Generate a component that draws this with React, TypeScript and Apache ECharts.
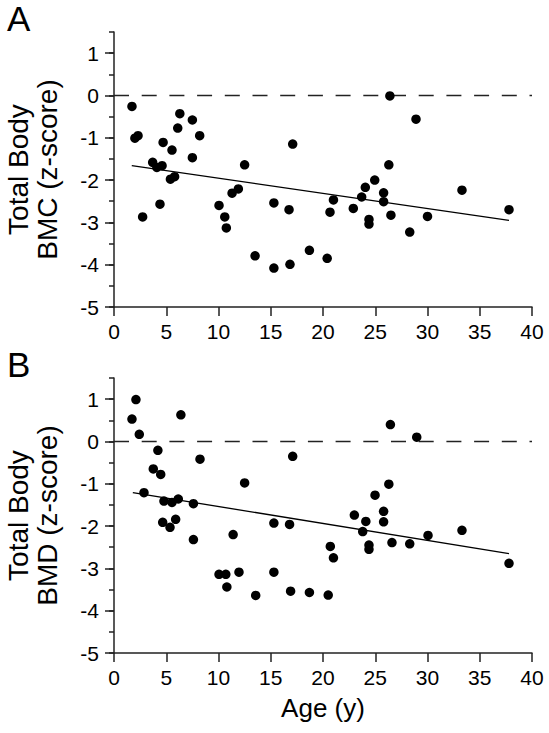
import React, { useEffect, useRef } from "react";
import * as echarts from "echarts";

// Panel A: Total Body BMC z-score vs age
const ageA = [1.72, 2.0, 2.3, 2.74, 3.7, 4.1, 4.6, 4.4, 4.7, 5.4, 5.8, 5.55, 6.1, 6.3, 7.5, 7.5, 8.2, 10.05, 10.6, 10.75, 11.3, 11.9, 12.5, 13.5, 15.3, 15.3, 16.75, 16.84, 17.1, 18.7, 20.4, 20.67, 21.0, 22.9, 23.7, 24.05, 24.4, 24.4, 24.95, 25.8, 25.8, 26.5, 26.3, 26.4, 28.3, 28.9, 30.0, 33.3, 37.8];
const bmcA = [-0.26, -1.01, -0.95, -2.87, -1.58, -1.7, -1.66, -2.57, -1.11, -1.98, -1.92, -1.29, -0.77, -0.43, -0.58, -1.47, -0.95, -2.6, -2.87, -3.13, -2.31, -2.21, -1.64, -3.79, -2.54, -4.08, -2.7, -3.99, -1.15, -3.66, -3.85, -2.76, -2.47, -2.67, -2.4, -2.17, -2.93, -3.04, -2.0, -2.3, -2.51, -2.83, -1.64, -0.01, -3.23, -0.56, -2.86, -2.24, -2.7];
const trendAx = [1.7, 37.8];
const trendAy = [-1.66, -2.95];

// Panel B: Total Body BMD z-score vs age
const ageB = [1.72, 2.1, 2.42, 2.87, 4.2, 3.76, 4.47, 4.78, 5.55, 6.15, 7.6, 6.4, 8.23, 12.5, 4.66, 5.36, 5.9, 7.6, 11.4, 10.05, 10.7, 10.8, 11.96, 13.56, 15.3, 15.3, 16.8, 16.9, 18.7, 20.5, 20.7, 21.0, 23.0, 24.1, 23.8, 24.4, 24.4, 25.8, 25.8, 26.6, 28.3, 30.05, 33.3, 37.8, 17.1, 26.45, 28.97, 26.3, 24.98];
const bmdB = [0.53, 0.99, 0.17, -1.21, -0.21, -0.65, -0.78, -1.41, -1.44, -1.36, -1.47, 0.63, -0.42, -0.98, -1.91, -2.03, -1.84, -2.32, -2.2, -3.14, -3.14, -3.44, -3.09, -3.64, -1.93, -3.09, -1.96, -3.54, -3.57, -3.63, -2.48, -2.75, -1.74, -1.89, -2.13, -2.45, -2.55, -1.9, -1.65, -2.39, -2.42, -2.22, -2.1, -2.88, -0.35, 0.4, 0.1, -1.01, -1.27];
const trendBx = [1.8, 37.8];
const trendBy = [-1.21, -2.65];

const zeroX = [0, 40];
const zeroY = [0, 0];

const xTicks = [0, 5, 10, 15, 20, 25, 30, 35, 40];
const yMajor = [-5, -4, -3, -2, -1, 0, 1];
const yTitleA = "Total Body\nBMC (z-score)";
const yTitleB = "Total Body\nBMD (z-score)";
const xTitle = "Age (y)";

const FONT = "Liberation Sans, Arial, Helvetica, sans-serif";
const INK = "#000";
const AXIS = "#222";

const zip = (xs: number[], ys: number[]) => xs.map((x, i) => [x, ys[i]]);

export default function App() {
  const ref = useRef<HTMLDivElement>(null);
  useEffect(() => {
    if (!ref.current) return;
    const chart = echarts.init(ref.current, null, { renderer: "svg" });

    const grids = [
      { left: 114, top: 32, width: 418, height: 275, containLabel: false, outerBoundsMode: "none" },
      { left: 114, top: 378, width: 418, height: 275, containLabel: false, outerBoundsMode: "none" },
    ];

    const xAxisBase = (gi: number, name?: string) => ({
      type: "value",
      gridIndex: gi,
      min: 0,
      max: 40,
      interval: 5,
      name: name ?? "",
      nameLocation: "middle",
      nameGap: 42,
      nameTextStyle: { fontFamily: FONT, fontSize: 26, color: INK },
      axisLine: { show: true, onZero: false, lineStyle: { color: AXIS, width: 1.5 } },
      axisTick: { show: true, length: 9, lineStyle: { color: AXIS, width: 1.5 }, customValues: xTicks },
      axisLabel: { fontFamily: FONT, fontSize: 21, color: INK, margin: 14, customValues: xTicks },
      splitLine: { show: false },
    });

    const yMain = (gi: number, name: string) => ({
      type: "value",
      gridIndex: gi,
      position: "left",
      min: -5,
      max: 1.5,
      interval: 0.5,
      name,
      nameLocation: "middle",
      nameRotate: 90,
      nameGap: 52,
      nameTextStyle: { fontFamily: FONT, fontSize: 28, color: INK, lineHeight: 29, align: "center" },
      axisLine: { show: true, onZero: false, lineStyle: { color: AXIS, width: 1.5 } },
      axisTick: { show: true, length: 5, lineStyle: { color: AXIS, width: 1.5 } },
      axisLabel: { fontFamily: FONT, fontSize: 21, color: INK, margin: 15, customValues: yMajor },
      splitLine: { show: false },
    });

    const yMajorTicks = (gi: number) => ({
      type: "value",
      gridIndex: gi,
      position: "left",
      offset: 0,
      min: -5,
      max: 1.5,
      interval: 0.5,
      axisLine: { show: false },
      axisTick: { show: true, length: 9, lineStyle: { color: AXIS, width: 1.5 }, customValues: yMajor },
      axisLabel: { show: false },
      splitLine: { show: false },
    });

    const panel = (gi: number, xs: number[], ys: number[], tx: number[], ty: number[]) => [
      {
        type: "line",
        xAxisIndex: gi,
        yAxisIndex: gi * 2,
        data: zip(zeroX, zeroY),
        symbol: "none",
        silent: true,
        lineStyle: { color: AXIS, width: 1.4, type: [15, 12.7] },
        z: 1,
      },
      {
        type: "line",
        xAxisIndex: gi,
        yAxisIndex: gi * 2,
        data: zip(tx, ty),
        symbol: "none",
        silent: true,
        lineStyle: { color: INK, width: 1.3 },
        z: 2,
      },
      {
        type: "scatter",
        xAxisIndex: gi,
        yAxisIndex: gi * 2,
        data: zip(xs, ys),
        symbol: "circle",
        symbolSize: 9.5,
        itemStyle: { color: INK, opacity: 1 },
        z: 3,
      },
    ];

    chart.setOption({
      animation: false,
      backgroundColor: "#fff",
      grid: grids,
      xAxis: [xAxisBase(0), xAxisBase(1, xTitle)],
      yAxis: [yMain(0, yTitleA), yMajorTicks(0), yMain(1, yTitleB), yMajorTicks(1)],
      series: [...panel(0, ageA, bmcA, trendAx, trendAy), ...panel(1, ageB, bmdB, trendBx, trendBy)],
      graphic: [
        { type: "text", left: 7, top: 1, style: { text: "A", fontFamily: FONT, fontSize: 35, fill: INK } },
        { type: "text", left: 7, top: 347, style: { text: "B", fontFamily: FONT, fontSize: 35, fill: INK } },
      ],
    });
    return () => chart.dispose();
  }, []);
  return (
    <div
      ref={ref}
      style={{ position: "absolute", left: 0, top: 0, width: 549, height: 733, background: "#fff" }}
    />
  );
}
